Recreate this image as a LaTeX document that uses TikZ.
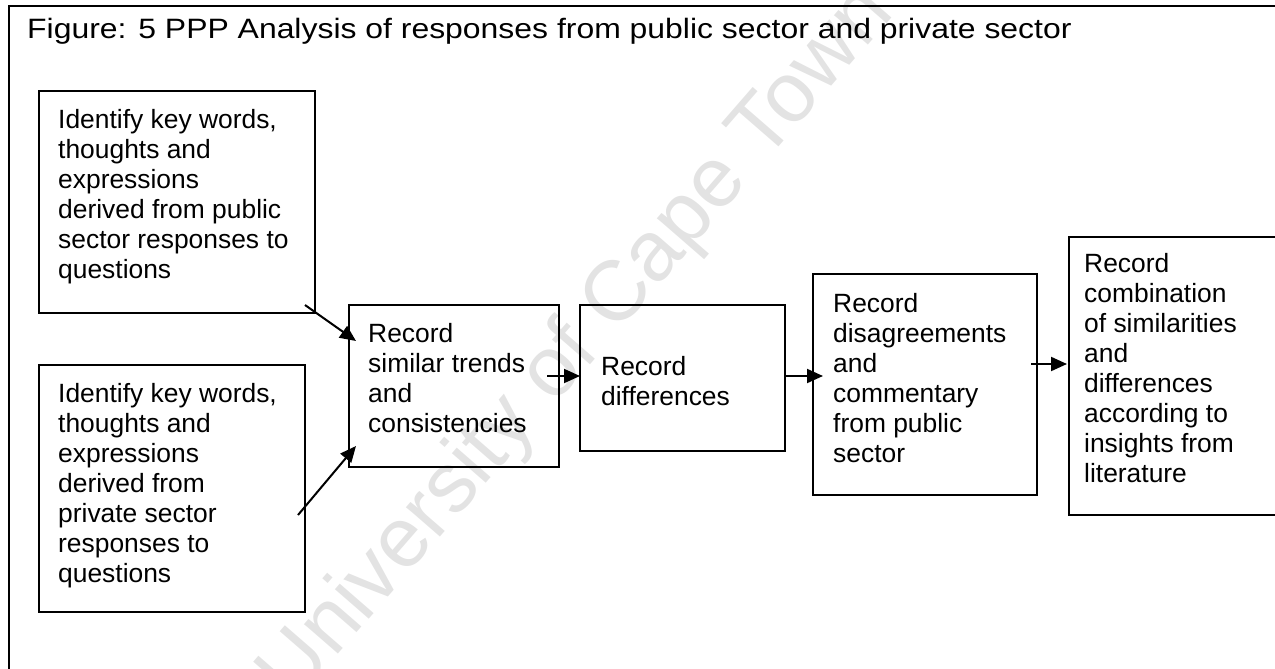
\documentclass[tikz,border=0pt]{standalone}
\usepackage{fontspec}
\usepackage{graphicx}
\setmainfont{Liberation Sans}
\usetikzlibrary{arrows.meta}
\begin{document}
\begin{tikzpicture}[x=1pt,y=-1pt,
  box/.style={draw=black, line width=2pt, rectangle, anchor=north west, inner sep=0pt},
  txt/.style={anchor=north west, inner sep=0pt, align=left, font=\fontsize{26.4}{30}\selectfont},
  arr/.style={line width=2pt, -{Triangle[length=16pt,width=14pt]}},
  wm/.style={text=black!11, font=\fontsize{85}{90}\selectfont, inner sep=0pt}]
\useasboundingbox (0,0) rectangle (1275,669);
\node[wm, rotate=49] (wmark) at (578,345) {University of Cape Town};
\draw[line width=2.5pt] (9,669) -- (9,6) -- (1275,6);
\node[anchor=north west, inner sep=0pt, font=\fontsize{28}{32}\selectfont] (title) at (27,18) {\scalebox{1.14}[1]{Figure: 5 PPP Analysis of responses from public sector and private sector}};
\node[box, minimum width=276, minimum height=222] (b1) at (38,90) {};
\node[box, minimum width=266, minimum height=247] (b2) at (38,364) {};
\node[box, minimum width=210, minimum height=162] (b3) at (348,304) {};
\node[box, minimum width=205, minimum height=146] (b4) at (579,304) {};
\node[box, minimum width=224, minimum height=221] (b5) at (812,273) {};
\node[box, minimum width=230, minimum height=278] (b6) at (1068,236) {};
\node[txt] (t1) at ([shift={(20,19)}]b1.north west) {Identify key words,\\thoughts and\\expressions\\derived from public\\sector responses to\\questions};
\node[txt] (t2) at ([shift={(20,19)}]b2.north west) {Identify key words,\\thoughts and\\expressions\\derived from\\private sector\\responses to\\questions};
\node[txt] (t3) at ([shift={(20,19)}]b3.north west) {Record\\similar trends\\and\\consistencies};
\node[txt] (t4) at ([shift={(22,52)}]b4.north west) {Record\\differences};
\node[txt] (t5) at ([shift={(21,20)}]b5.north west) {Record\\disagreements\\and\\commentary\\from public\\sector};
\node[txt] (t6) at ([shift={(16,17)}]b6.north west) {Record\\combination\\of similarities\\and\\differences\\according to\\insights from\\literature};
\draw[arr] ([shift={(-11,-9)}]b1.south east) -- ([shift={(8,37)}]b3.north west);
\draw[arr] ([shift={(-8,151)}]b2.north east) -- ([shift={(8,142)}]b3.north west);
\draw[arr] ([shift={(-13,72)}]b3.north east) -- ([shift={(1,72)}]b4.north west);
\draw[arr] ([shift={(0,72)}]b4.north east) -- ([shift={(11,103)}]b5.north west);
\draw[arr] ([shift={(-7,91)}]b5.north east) -- ([shift={(-1,128)}]b6.north west);
\end{tikzpicture}
\end{document}
